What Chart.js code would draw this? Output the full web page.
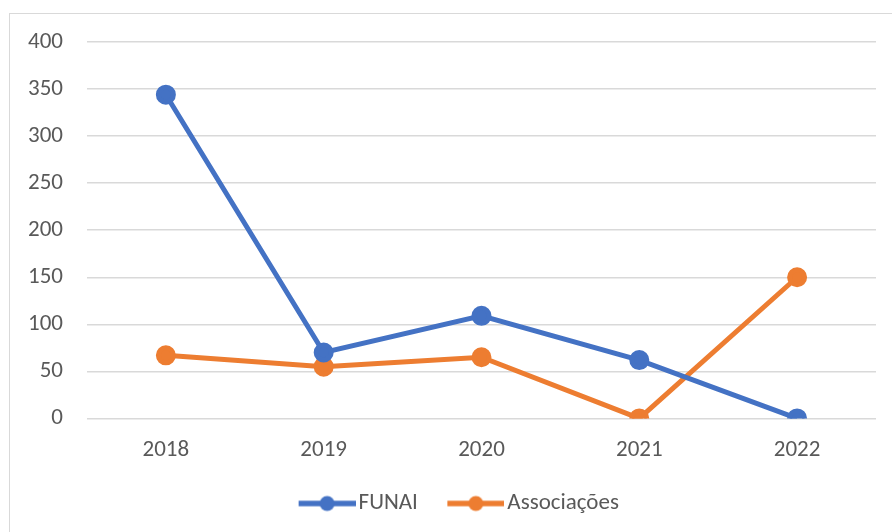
<!DOCTYPE html>
<html>
<head>
<meta charset="utf-8">
<script src="https://cdn.jsdelivr.net/npm/chart.js@4"></script>
<style>
    body { margin: 0; background: #fff; }
    .frame { position: absolute; left: 9px; top: 13px; width: 900px; height: 540px; border: 1px solid #d9d9d9; }
    .wrap { position: absolute; left: 0; top: 0; width: 892px; height: 532px; }
</style>
</head>
<body>
<div class="frame"></div>
<div class="wrap"><canvas id="lineChart" width="892" height="532"></canvas></div>
<script>
// dados
const years = ['2018', '2019', '2020', '2021', '2022'];
const funai = [344, 70, 109, 62, 0];
const associacoes = [67, 55, 65, 0, 150];
const yTicks = [0, 50, 100, 150, 200, 250, 300, 350, 400];

const BLUE = '#4472C4';
const ORANGE = '#ED7D31';
const FONT = "Carlito, Lato, sans-serif";
const FONT_SIZE = 23;

// marcador da legenda: linha com círculo (com margem transparente à esquerda)
function legendMarker(color) {
    const c = document.createElement('canvas');
    c.width = 77;
    c.height = 18;
    const ctx = c.getContext('2d');
    ctx.strokeStyle = color;
    ctx.lineWidth = 5.5;
    ctx.beginPath();
    ctx.moveTo(20, 9);
    ctx.lineTo(77, 9);
    ctx.stroke();
    ctx.fillStyle = color;
    ctx.beginPath();
    ctx.arc(48.5, 9, 7.5, 0, Math.PI * 2);
    ctx.fill();
    return c;
}

const markers = [legendMarker(BLUE), legendMarker(ORANGE)];

// legenda um pouco deslocada para a direita, como no original
const legendShift = {
    id: 'legendShift',
    afterLayout(chart) {
        chart.legend.left += 13;
        chart.legend.right += 13;
    }
};

new Chart(document.getElementById('lineChart').getContext('2d'), {
    type: 'line',
    data: {
        labels: years,
        datasets: [{
            label: 'FUNAI',
            data: funai,
            borderColor: BLUE,
            backgroundColor: BLUE,
            borderWidth: 5,
            pointRadius: 7.5,
            pointHoverRadius: 7.5,
            tension: 0
        }, {
            label: 'Associações',
            data: associacoes,
            borderColor: ORANGE,
            backgroundColor: ORANGE,
            borderWidth: 5,
            pointRadius: 7.5,
            pointHoverRadius: 7.5,
            tension: 0
        }]
    },
    plugins: [legendShift],
    options: {
        responsive: false,
        animation: false,
        layout: {
            padding: { left: 4, right: 16, top: 42, bottom: 7 }
        },
        plugins: {
            tooltip: { enabled: false },
            legend: {
                position: 'bottom',
                labels: {
                    usePointStyle: true,
                    pointStyleWidth: 60,
                    padding: 18,
                    color: '#595959',
                    font: { family: FONT, size: FONT_SIZE },
                    generateLabels(chart) {
                        const items = Chart.defaults.plugins.legend.labels.generateLabels(chart);
                        items.forEach((item, i) => { item.pointStyle = markers[i]; });
                        return items;
                    }
                }
            }
        },
        scales: {
            y: {
                min: 0,
                max: 400,
                afterBuildTicks(axis) {
                    axis.ticks = yTicks.map(v => ({ value: v }));
                },
                border: { display: false },
                grid: { color: '#d9d9d9', lineWidth: 1.5, drawTicks: false },
                ticks: {
                    padding: 24,
                    color: '#595959',
                    font: { family: FONT, size: FONT_SIZE }
                }
            },
            x: {
                offset: true,
                border: { display: false },
                grid: { display: false },
                ticks: {
                    padding: 10,
                    color: '#595959',
                    font: { family: FONT, size: FONT_SIZE }
                }
            }
        }
    }
});
</script>
</body>
</html>
